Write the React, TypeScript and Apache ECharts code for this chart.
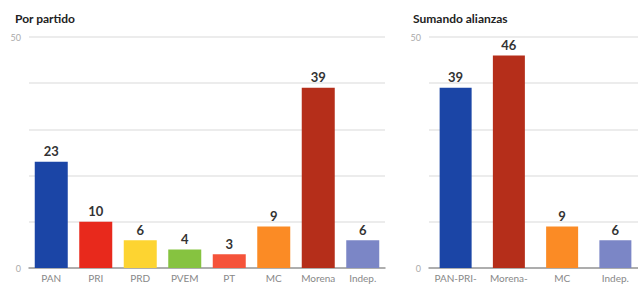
import React, { useEffect, useRef } from "react";
import * as echarts from "echarts";

const partyCategories = ["PAN", "PRI", "PRD", "PVEM", "PT", "MC", "Morena", "Indep."];
const partyValues = [23, 10, 6, 4, 3, 9, 39, 6];
const partyColors = ["#1b45a6", "#e8291c", "#fdd431", "#86c340", "#f5533a", "#fb8b25", "#b52e1a", "#7b86c6"];

const allianceCategories = ["PAN-PRI-", "Morena-", "MC", "Indep."];
const allianceValues = [39, 46, 9, 6];
const allianceColors = ["#1b45a6", "#b52e1a", "#fb8b25", "#7b86c6"];

const yTickLabels = ["0", "50"];

const FONT = "Lato, 'Noto Sans', sans-serif";

export default function App() {
  const ref = useRef<HTMLDivElement>(null);
  useEffect(() => {
    if (!ref.current) return;
    const chart = echarts.init(ref.current, null, { renderer: "svg" });
    const yAxisBase = (gridIndex: number) => ({
      type: "value",
      gridIndex,
      min: 0,
      max: 50,
      interval: 10,
      axisLine: { show: false },
      axisTick: { show: false },
      splitLine: { lineStyle: { color: "#e6e6e6", width: 1.5 } },
      axisLabel: {
        color: "#aaaaaa",
        fontSize: 9,
        fontFamily: FONT,
        margin: 8,
        formatter: (v: number) => (yTickLabels.includes(String(v)) ? String(v) : ""),
      },
    });
    const xAxisBase = (gridIndex: number, data: string[]) => ({
      type: "category",
      gridIndex,
      data,
      axisLine: { lineStyle: { color: "#999999", width: 1.5 } },
      axisTick: { show: false },
      axisLabel: {
        color: "#888888",
        fontSize: 10,
        fontFamily: FONT,
        margin: 5,
        interval: 0,
      },
    });
    const labelStyle = {
      show: true,
      position: "top",
      distance: 4,
      color: "#333333",
      fontSize: 13,
      fontWeight: "bold",
      fontFamily: FONT,
    };
    chart.setOption({
      animation: false,
      title: [
        {
          text: "Por partido",
          left: 10,
          top: 7,
          textStyle: { fontSize: 12, fontWeight: "bold", color: "#222222", fontFamily: FONT },
        },
        {
          text: "Sumando alianzas",
          left: 408,
          top: 7,
          textStyle: { fontSize: 12, fontWeight: "bold", color: "#222222", fontFamily: FONT },
        },
      ],
      grid: [
        { left: 29, top: 37, width: 356, height: 231 },
        { left: 429, top: 37, width: 213, height: 231 },
      ],
      xAxis: [xAxisBase(0, partyCategories), xAxisBase(1, allianceCategories)],
      yAxis: [yAxisBase(0), yAxisBase(1)],
      series: [
        {
          type: "bar",
          xAxisIndex: 0,
          yAxisIndex: 0,
          barWidth: 33,
          data: partyValues.map((v, i) => ({ value: v, itemStyle: { color: partyColors[i] } })),
          label: labelStyle,
        },
        {
          type: "bar",
          xAxisIndex: 1,
          yAxisIndex: 1,
          barWidth: 32,
          data: allianceValues.map((v, i) => ({ value: v, itemStyle: { color: allianceColors[i] } })),
          label: labelStyle,
        },
      ],
    });
    return () => chart.dispose();
  }, []);
  return (
    <div
      style={{
        position: "fixed",
        left: 0,
        top: 0,
        width: 638,
        height: 286,
        overflow: "hidden",
        background: "#ffffff",
      }}
    >
      <div ref={ref} style={{ width: 650, height: 300 }} />
    </div>
  );
}
